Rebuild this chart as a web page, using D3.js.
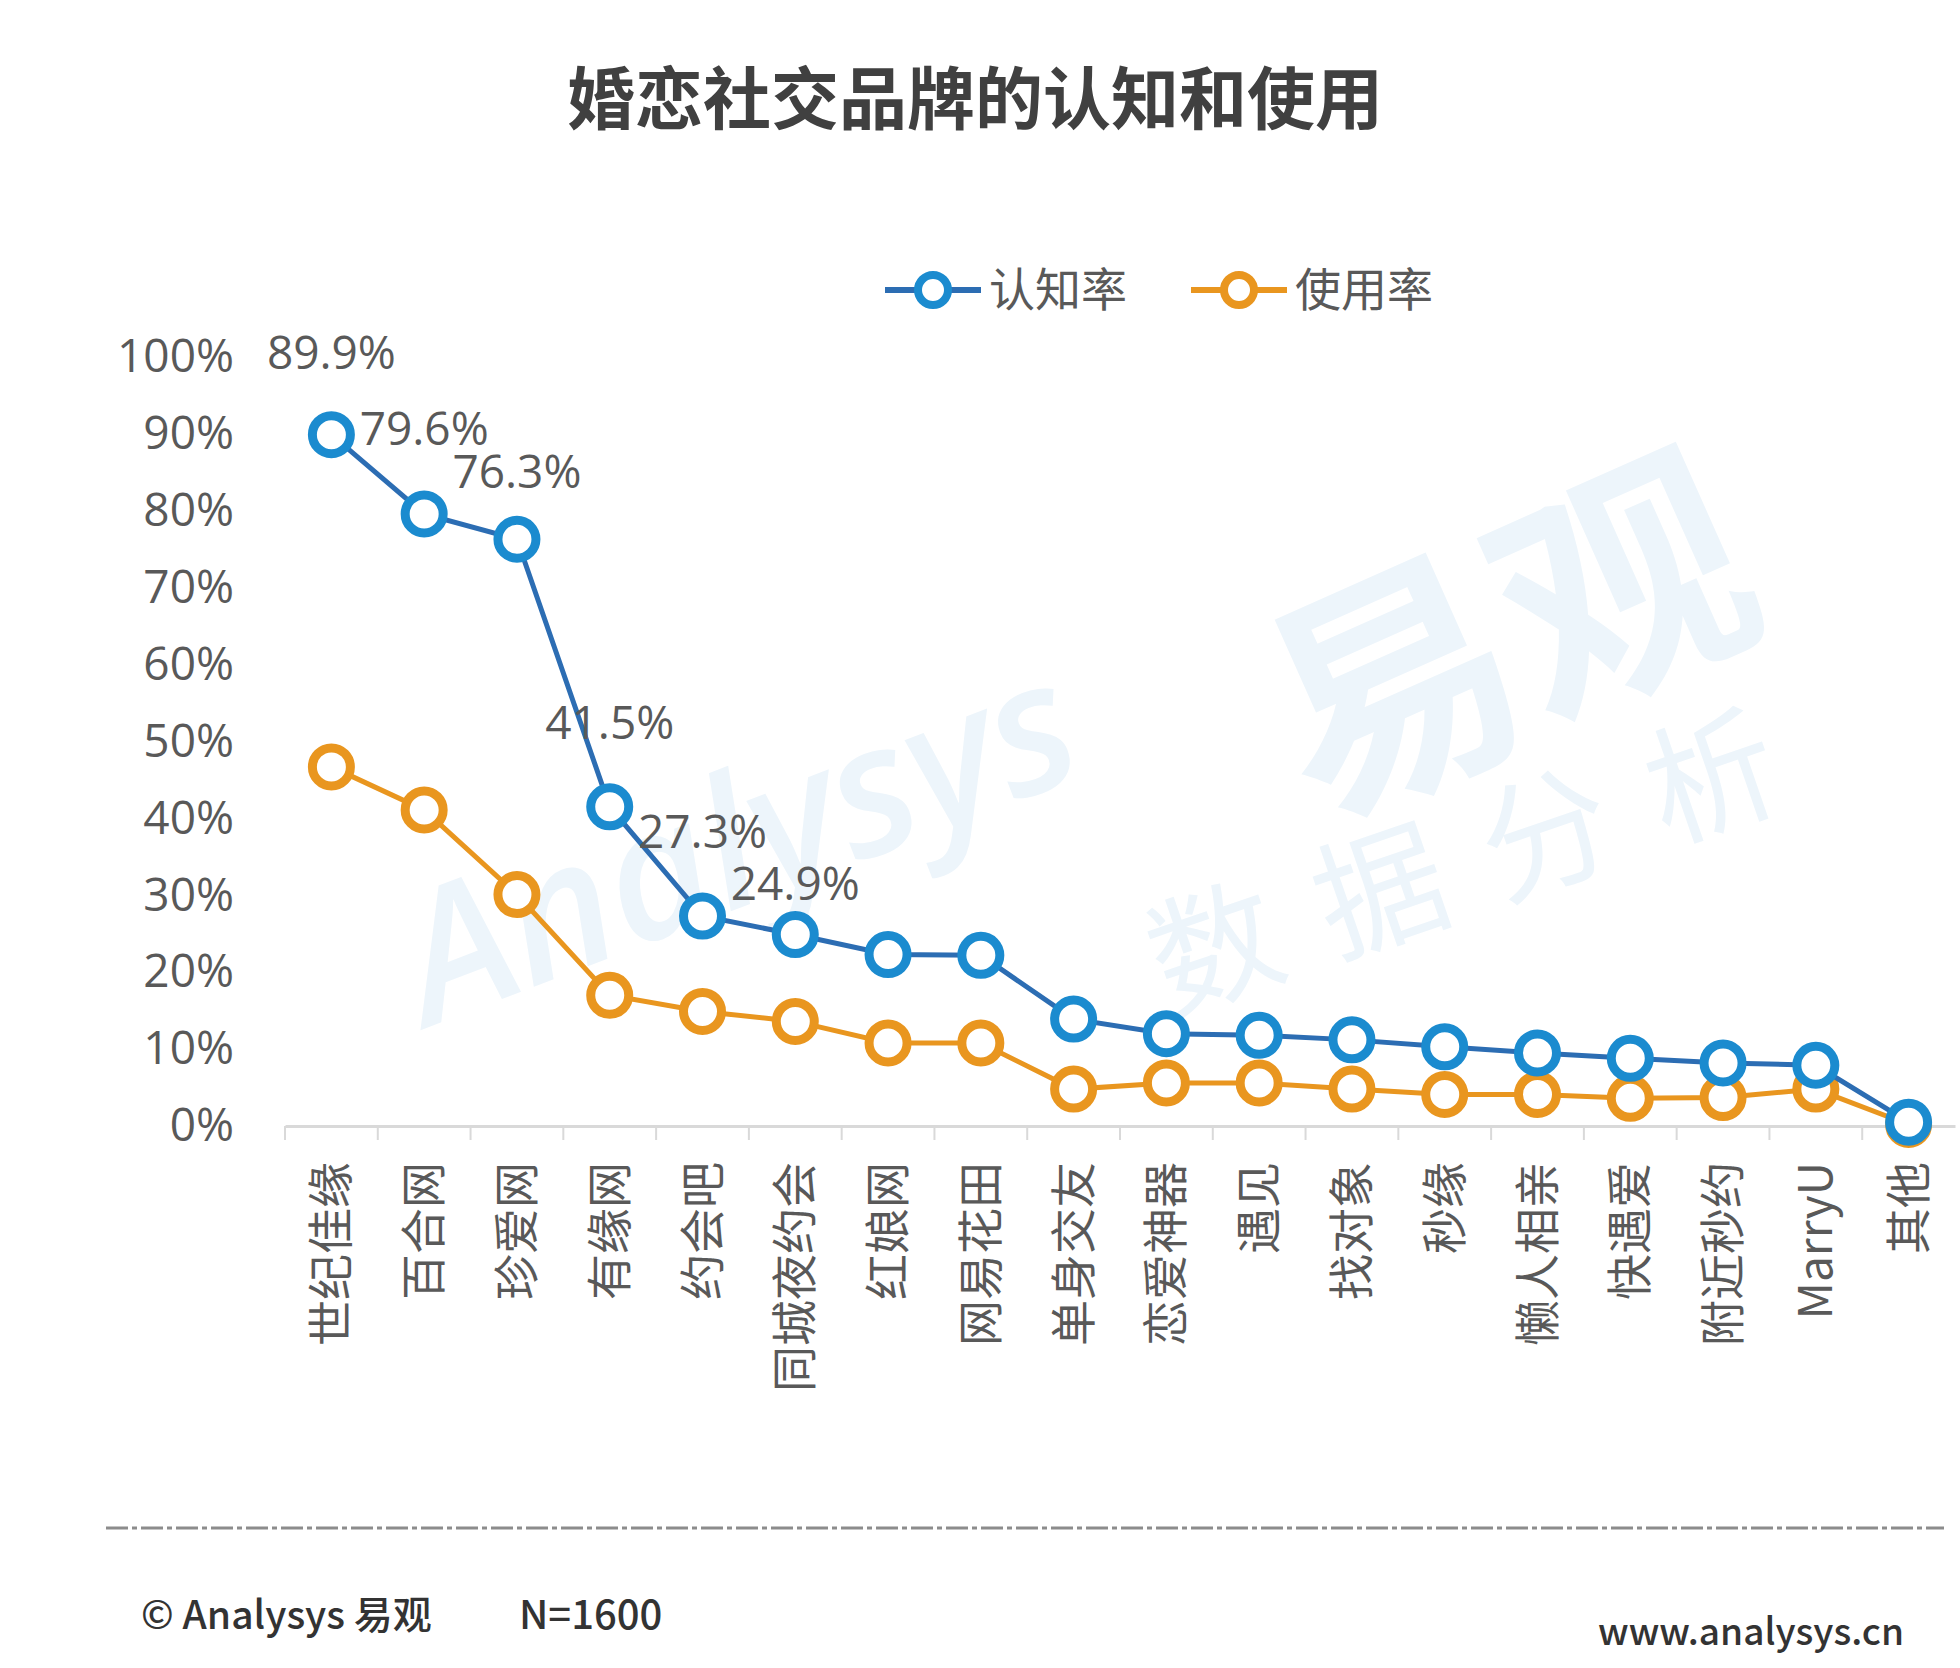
<!DOCTYPE html>
<html>
<head>
<meta charset="utf-8">
<script src="https://cdn.jsdelivr.net/npm/d3@7"></script>
<style>
  body { margin: 0; background: #fff; }
  svg { display: block; }
</style>
</head>
<body>
<div class="chart"></div>
<script>
// brands, left to right
const brands = ['世纪佳缘', '百合网', '珍爱网', '有缘网', '约会吧', '同城夜约会', '红娘网', '网易花田',
    '单身交友', '恋爱神器', '遇见', '找对象', '秒缘', '懒人相亲', '快遇爱', '附近秒约', 'MarryU', '其他'];
// 认知率 (%)
const awareness = [89.9, 79.6, 76.3, 41.5, 27.3, 24.9, 22.3, 22.2, 13.9, 12.0, 11.8, 11.2, 10.3, 9.5, 8.8, 8.2, 7.9, 0.5];
// 使用率 (%)
const usage = [46.7, 41.1, 30.1, 17.0, 14.9, 13.6, 10.8, 10.8, 4.8, 5.6, 5.6, 4.8, 4.1, 4.1, 3.6, 3.7, 4.8, 0.2];
// only the first six awareness points carry a label
const labelled = 6;
const yTicks = [0, 10, 20, 30, 40, 50, 60, 70, 80, 90, 100];

// vertical nudge of each data label above its point (layout only)
const labelDy = [-66, -69, -51, -68, -68, -35];

const width = 1960;
const height = 1668;
const blue = '#1b8bcf';
const blueLine = '#2c6db3';
const orange = '#e9961f';
const textGray = '#595959';
const font = '"Open Sans", "Noto Sans CJK SC", sans-serif';
const cjk = '"Noto Sans CJK SC", sans-serif';

const svg = d3.select('.chart')
    .append('svg')
    .attr('width', width)
    .attr('height', height);

// faint watermark
const wm = svg.append('g').attr('fill', '#edf5fb').attr('font-family', cjk);
wm.append('text').text('易观')
    .attr('transform', 'translate(1545,720) rotate(-24)')
    .attr('text-anchor', 'middle').attr('font-size', 250).attr('font-weight', 700);
wm.append('text').text('数据分析')
    .attr('transform', 'translate(1500,900) rotate(-19)')
    .attr('text-anchor', 'middle').attr('font-size', 130).attr('letter-spacing', 45);
wm.append('text').text('Analysys')
    .attr('transform', 'translate(760,900) rotate(-21)')
    .attr('text-anchor', 'middle').attr('font-size', 180).attr('font-style', 'italic')
    .attr('font-weight', 600).attr('font-family', font);

// title
svg.append('text')
    .text('婚恋社交品牌的认知和使用')
    .attr('x', 975)
    .attr('y', 124)
    .attr('text-anchor', 'middle')
    .attr('font-family', cjk)
    .attr('font-size', 68)
    .attr('font-weight', 700)
    .attr('fill', '#404040');

// scales
const x = d3.scaleBand()
    .domain(brands)
    .range([285, 1955]);
const y = d3.scaleLinear()
    .domain([0, 100])
    .range([1126, 357]);
const cx = d => x(d) + x.bandwidth() / 2;

// y axis, labels only
const yAxis = svg.append('g')
    .attr('transform', 'translate(250,0)')
    .call(d3.axisLeft(y).tickValues(yTicks).tickSize(0).tickPadding(16).tickFormat(d => d + '%'));
yAxis.select('.domain').remove();
yAxis.selectAll('text')
    .attr('font-family', font)
    .attr('font-size', 46)
    .attr('fill', textGray);

// x axis
const xAxis = svg.append('g')
    .attr('transform', `translate(0,${y(0)})`)
    .call(d3.axisBottom(x).tickSize(0).tickSizeOuter(0));
xAxis.select('.domain').attr('stroke', '#d9d9d9').attr('stroke-width', 3);
xAxis.selectAll('.tick text')
    .attr('transform', 'rotate(-90)')
    .attr('x', -36)
    .attr('y', 0)
    .attr('dy', '0.35em')
    .style('text-anchor', 'end')
    .attr('font-family', cjk)
    .attr('font-size', 46)
    .attr('fill', textGray);
// tick marks sit on the band edges
xAxis.selectAll('.edge')
    .data(brands)
    .enter()
    .append('line')
    .attr('class', 'edge')
    .attr('x1', d => x(d))
    .attr('x2', d => x(d))
    .attr('y1', 0)
    .attr('y2', 14)
    .attr('stroke', '#d9d9d9')
    .attr('stroke-width', 2);

// series
const series = [
    { name: '使用率', values: usage, stroke: orange, line: orange },
    { name: '认知率', values: awareness, stroke: blue, line: blueLine }
];

const line = d3.line()
    .x((v, i) => cx(brands[i]))
    .y(v => y(v));

series.forEach(s => {
    svg.append('path')
        .datum(s.values)
        .attr('d', line)
        .attr('fill', 'none')
        .attr('stroke', s.line)
        .attr('stroke-width', 5);
    svg.selectAll('.dot-' + s.name)
        .data(s.values)
        .enter()
        .append('circle')
        .attr('cx', (v, i) => cx(brands[i]))
        .attr('cy', v => y(v))
        .attr('r', 19)
        .attr('fill', '#fff')
        .attr('stroke', s.stroke)
        .attr('stroke-width', 9);
});

// data labels on awareness
svg.selectAll('.value-label')
    .data(awareness.slice(0, labelled))
    .enter()
    .append('text')
    .attr('class', 'value-label')
    .text(v => v.toFixed(1) + '%')
    .attr('x', (v, i) => cx(brands[i]))
    .attr('y', v => y(v))
    .attr('dy', (v, i) => labelDy[i])
    .attr('text-anchor', 'middle')
    .attr('font-family', font)
    .attr('font-size', 46)
    .attr('fill', textGray);

// legend
const legend = svg.append('g').attr('transform', 'translate(885,290)');
[{ name: '认知率', stroke: blue, line: blueLine, x0: 0 },
 { name: '使用率', stroke: orange, line: orange, x0: 306 }].forEach(l => {
    const g = legend.append('g').attr('transform', `translate(${l.x0},0)`);
    g.append('line').attr('x1', 0).attr('x2', 96)
        .attr('stroke', l.line).attr('stroke-width', 6);
    g.append('circle').attr('cx', 48).attr('r', 15)
        .attr('fill', '#fff').attr('stroke', l.stroke).attr('stroke-width', 8);
    g.append('text').text(l.name)
        .attr('x', 104).attr('dy', '0.35em')
        .attr('font-family', cjk).attr('font-size', 46).attr('fill', textGray);
});

// footer
svg.append('line')
    .attr('x1', 106).attr('x2', 1944)
    .attr('y1', 1528).attr('y2', 1528)
    .attr('stroke', '#8c8c8c')
    .attr('stroke-width', 3)
    .attr('stroke-dasharray', '22 4 5 4');
svg.append('text')
    .text('© Analysys 易观')
    .attr('x', 141).attr('y', 1629)
    .attr('font-family', cjk).attr('font-size', 39).attr('font-weight', 500).attr('fill', '#333');
svg.append('text')
    .text('N=1600')
    .attr('x', 519).attr('y', 1629)
    .attr('font-family', cjk).attr('font-size', 40).attr('font-weight', 500).attr('fill', '#333');
svg.append('text')
    .text('www.analysys.cn')
    .attr('x', 1904).attr('y', 1645)
    .attr('text-anchor', 'end')
    .attr('font-family', cjk).attr('font-size', 37).attr('font-weight', 500).attr('fill', '#333');
</script>
</body>
</html>
